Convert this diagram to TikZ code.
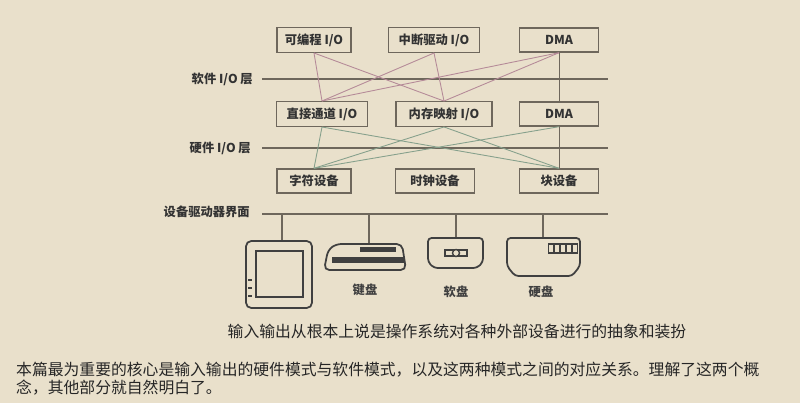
\documentclass[tikz,border=0pt]{standalone}
\usepackage{fontspec}
\setmainfont{Liberation Serif}
\newfontfamily\cjk{Noto Sans CJK SC}
\usetikzlibrary{positioning}
\definecolor{paper}{HTML}{E9E0CB}
\definecolor{ink}{HTML}{6E675C}
\definecolor{pinkln}{HTML}{B58A98}
\definecolor{greenln}{HTML}{86A08C}
\tikzset{
  layerbox/.style={draw=ink, line width=0.8pt, fill=paper, minimum height=0.48cm, font=\cjk\bfseries\fontsize{7}{8}\selectfont, text=black!80},
  layerline/.style={draw=ink, line width=0.6pt},
  layertext/.style={font=\cjk\bfseries\fontsize{7}{8}\selectfont, text=black!80, anchor=east},
  softlink/.style={draw=pinkln, line width=0.5pt},
  hardlink/.style={draw=greenln, line width=0.5pt},
  devline/.style={draw=black!75, line width=1pt, fill=paper}
}
\begin{document}
\begin{tikzpicture}[x=0.02cm, y=-0.02cm]
\useasboundingbox[fill=paper] (0,0) rectangle (800,403);
% top row
\node[layerbox, minimum width=1.48cm] (prog) at (314,40) {可编程 I/O};
\node[layerbox, minimum width=1.82cm] (intr) at (434,40) {中断驱动 I/O};
\node[layerbox, minimum width=1.58cm] (dmaA) at (559,40) {DMA};
% middle row
\node[layerbox, minimum width=1.82cm] (chan) at (322,114) {直接通道 I/O};
\node[layerbox, minimum width=1.92cm] (mmap) at (444,114) {内存映射 I/O};
\node[layerbox, minimum width=1.58cm] (dmaB) at (559,114) {DMA};
% bottom row
\node[layerbox, minimum width=1.48cm] (chr) at (314,181) {字符设备};
\node[layerbox, minimum width=1.58cm] (clk) at (435,181) {时钟设备};
\node[layerbox, minimum width=1.58cm] (blk) at (559,181) {块设备};
% layer lines
\coordinate (swL) at (262,79); \coordinate (swR) at (608,79);
\coordinate (hwL) at (262,148); \coordinate (hwR) at (608,148);
\coordinate (ifL) at (262,214); \coordinate (ifR) at (608,214);
\draw[layerline] (swL) -- (swR);
\draw[layerline] (hwL) -- (hwR);
\draw[layerline, line width=0.8pt] (ifL) -- (ifR);
\node[layertext] (swT) at (259,79) {软件 I/O 层};
\node[layertext] (hwT) at (257,148) {硬件 I/O 层};
\node[layertext] (ifT) at (256,212) {设备驱动器界面};
% links between layers
\begin{scope}[on background layer/.style={}]
\draw[softlink] (prog.south) -- (chan.north);
\draw[softlink] (prog.south) -- (mmap.north);
\draw[softlink] (intr.south) -- (chan.north);
\draw[softlink] (intr.south) -- (mmap.north);
\draw[softlink] (dmaA.south) -- (chan.north);
\draw[softlink] (dmaA.south) -- (mmap.north);
\draw[layerline, line width=0.5pt] (dmaA.south) -- (dmaB.north);
\draw[layerline, line width=0.5pt] (dmaB.south) -- (blk.north);
\draw[hardlink] (chan.south) -- (chr.north);
\draw[hardlink] (chan.south) -- (blk.north);
\draw[hardlink] (mmap.south) -- (chr.north);
\draw[hardlink] (mmap.south) -- (blk.north);
\draw[hardlink] (dmaB.south) -- (chr.north);
\end{scope}
% drops to the devices
\foreach \x/\y in {282/242, 369/244, 456/238, 543/238}
  \draw[layerline, line width=0.8pt] (\x,214) -- (\x,\y);
% monitor
\draw[devline, rounded corners=3pt] (246,241) rectangle (312,308);
\draw[devline, line width=0.8pt] (256,251) rectangle (303,297);
\foreach \y in {280,288,296} \draw[black!75, line width=0.6pt] (248,\y) -- (252,\y);
% keyboard
\draw[devline, rounded corners=3pt] (324,270) -- (328,250) -- (336,244) -- (402,244) -- (406,270) -- cycle;
\fill[black!75] (360,247) rectangle (396,252);
\fill[black!75] (332,257) rectangle (404,263);
% floppy
\draw[devline, rounded corners=2pt] (428,238) -- (483,238) -- (483,262) -- (477,268) -- (434,268) -- (428,262) -- cycle;
\draw[black!75, line width=0.8pt, fill=paper] (445,250) rectangle (467,256);
\draw[black!75, line width=0.8pt, fill=paper] (456,253) circle (3.5);
% hard disk
\draw[devline, rounded corners=2pt] (507,238) -- (580,238) -- (580,266) -- (572,276) -- (515,276) -- (507,266) -- cycle;
\foreach \x in {551,557,563,569,575} \draw[black!75, line width=0.7pt] (\x-2.5,244) rectangle (\x+2.5,253);
% device labels
\node[font=\cjk\bfseries\fontsize{7}{8}\selectfont, text=black!75] (kbdT) at (365,290) {键盘};
\node[font=\cjk\bfseries\fontsize{7}{8}\selectfont, text=black!75] (flpT) at (456,292) {软盘};
\node[font=\cjk\bfseries\fontsize{7}{8}\selectfont, text=black!75] (hddT) at (541,292) {硬盘};
% caption and paragraph
\node[font=\cjk\fontsize{9}{11}\selectfont, text=black!85] (cap) at (457,331) {输入输出从根本上说是操作系统对各种外部设备进行的抽象和装扮};
\node[font=\cjk\fontsize{9}{11}\selectfont, text=black!85, anchor=west] (par1) at (10,370) {本篇最为重要的核心是输入输出的硬件模式与软件模式，以及这两种模式之间的对应关系。理解了这两个概};
\node[font=\cjk\fontsize{9}{11}\selectfont, text=black!85, anchor=west] (par2) at (10,388) {念，其他部分就自然明白了。};
\end{tikzpicture}
\end{document}
